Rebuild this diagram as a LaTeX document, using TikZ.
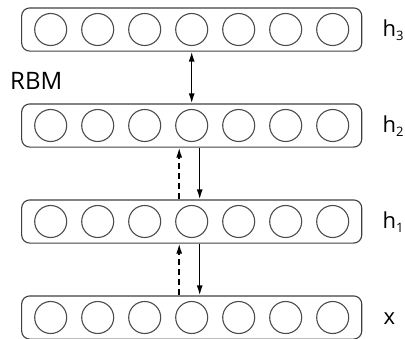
\documentclass[tikz,border=0pt]{standalone}
\usepackage{fontspec}
\setmainfont{Open Sans}
\usetikzlibrary{arrows.meta, positioning, fit}

\newcommand{\hsub}[1]{h\raisebox{-4pt}{\fontsize{13}{13}\selectfont #1}}

\begin{document}
\begin{tikzpicture}[
      x=1pt, y=-1pt,
      unit/.style={circle, draw=black!70, line width=1.1pt, minimum size=32pt, inner sep=0pt},
      layer/.style={rectangle, draw=black!75, line width=1.1pt, rounded corners=8pt, inner xsep=12.5pt, inner ysep=5pt},
      lbl/.style={anchor=base west, inner sep=0pt, font=\fontsize{22}{26}\selectfont},
      link/.style={line width=1.5pt},
      >={Latex[length=10pt, width=6pt]}
    ]
    \useasboundingbox (0,0) rectangle (405,338);

    % Units and layers
    \foreach \l/\y in {3/29.5, 2/125.5, 1/221.5, 0/317.5} {
      \foreach \i in {1,...,7}
        \node[unit] (L\l-\i) at (3.7+47*\i,\y) {};
      \node[layer, fit=(L\l-1) (L\l-7)] (L\l) {};
    }

    % Labels
    \node[lbl] (lab3) at ([xshift=20pt, yshift=-6.5pt]L3.east) {\hsub{3}};
    \node[lbl] (lab2) at ([xshift=20pt, yshift=-6.5pt]L2.east) {\hsub{2}};
    \node[lbl] (lab1) at ([xshift=20pt, yshift=-6.5pt]L1.east) {\hsub{1}};
    \node[lbl] (lab0) at ([xshift=21pt, yshift=-7pt]L0.east) {x};
    \node[lbl, font=\fontsize{24}{28}\selectfont] (rbm) at (10,89) {RBM};

    % Connections
    \draw[link, <->] (L3-4 |- L3.south) -- (L3-4 |- L2.north);
    \draw[link, ->, dash pattern=on 6pt off 4pt] ([xshift=-12.5pt]L1-4 |- L1.north) -- ([xshift=-12.5pt]L1-4 |- L2.south);
    \draw[link, ->] ([xshift=8pt]L2-4 |- L2.south) -- ([xshift=8pt]L2-4 |- L1.north);
    \draw[link, ->, dash pattern=on 6pt off 4pt] ([xshift=-12.5pt]L0-4 |- L0.north) -- ([xshift=-12.5pt]L0-4 |- L1.south);
    \draw[link, ->] ([xshift=8pt]L1-4 |- L1.south) -- ([xshift=8pt]L1-4 |- L0.north);

\end{tikzpicture}
\end{document}
